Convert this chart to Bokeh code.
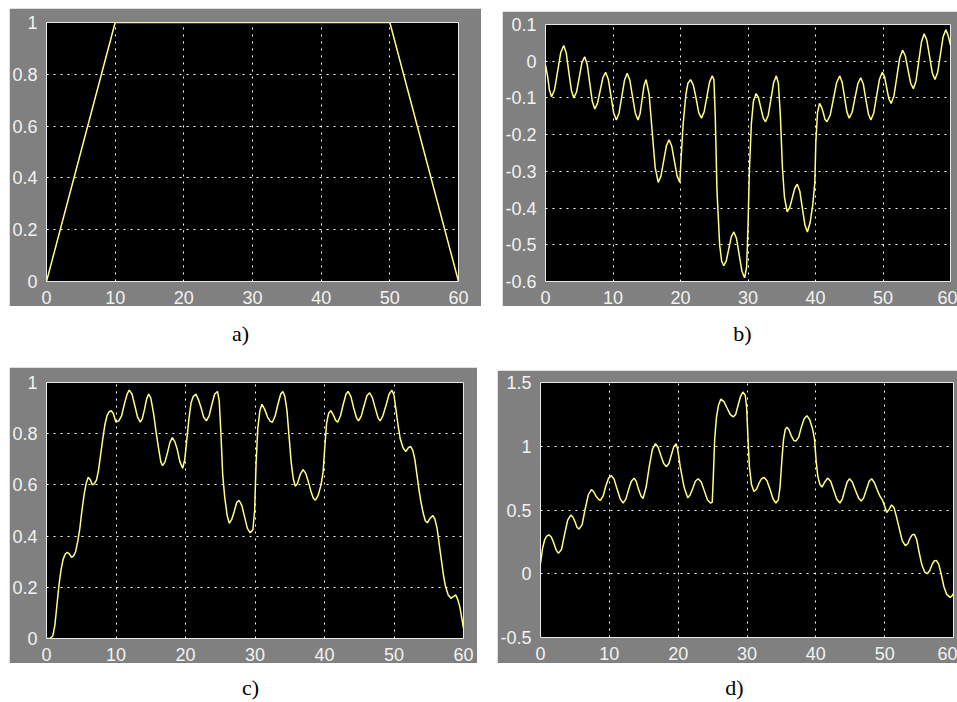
from bokeh.plotting import figure
from bokeh.layouts import column, row
from bokeh.models import Range1d, FixedTicker, Spacer, Label
from bokeh.embed import file_html
from bokeh.resources import INLINE

# ---------------- data ----------------
x_ticks = [0, 10, 20, 30, 40, 50, 60]
x_tick_labels = ["0", "10", "20", "30", "40", "50", "60"]

# a) reference trapezoid
a_x = [0, 10, 50, 60]
a_y = [0, 1, 1, 0]
a_yticks = [0, 0.2, 0.4, 0.6, 0.8, 1.0]
a_ylabels = ["0", "0.2", "0.4", "0.6", "0.8", "1"]

# b) error signal (read from the picture)
b_x = [0, 0.3, 0.6, 0.9, 1.35, 1.8, 2.25, 2.7, 3.08, 3.45, 3.83, 4.2, 4.6, 5.0, 5.4,
       5.8, 6.18, 6.55, 6.93, 7.3, 7.7, 8.1, 8.5, 8.9, 9.3, 9.7, 10.1, 10.5, 10.9,
       11.3, 11.7, 12.1, 12.5, 12.9, 13.3, 13.7, 14.0, 14.3, 14.6, 14.9, 15.35, 15.8,
       16.25, 16.7, 17.1, 17.5, 17.9, 18.3, 18.7, 19.1, 19.5, 19.9, 20.1, 20.4, 20.8,
       21.1, 21.5, 21.9, 22.3, 22.7, 23.1, 23.5, 23.9, 24.3, 24.7, 24.95, 25.15, 25.4,
       25.8, 26.1, 26.4, 26.78, 27.15, 27.53, 27.9, 28.3, 28.7, 29.1, 29.5, 29.8, 30.0,
       30.2, 30.5, 30.8, 31.2, 31.55, 31.9, 32.25, 32.6, 33.0, 33.4, 33.8, 34.2, 34.5,
       34.8, 35.1, 35.4, 35.8, 36.18, 36.55, 36.93, 37.3, 37.68, 38.05, 38.43, 38.8,
       39.2, 39.6, 39.9, 40.05, 40.3, 40.6, 40.9, 41.15, 41.4, 41.7, 42.18, 42.65,
       43.13, 43.6, 43.95, 44.3, 44.65, 45.0, 45.43, 45.85, 46.28, 46.7, 47.08, 47.45,
       47.83, 48.2, 48.63, 49.05, 49.48, 49.9, 50.23, 50.55, 50.88, 51.2, 51.63, 52.05,
       52.48, 52.9, 53.3, 53.7, 54.1, 54.5, 54.9, 55.3, 55.7, 56.1, 56.5, 56.9, 57.3,
       57.7, 58.1, 58.5, 58.9, 59.3, 59.65, 60]
b_y = [-0.01, -0.04, -0.08, -0.097, -0.077, -0.027, 0.023, 0.043, 0.022, -0.029,
       -0.079, -0.10, -0.084, -0.044, -0.004, 0.012, -0.009, -0.059, -0.109, -0.13,
       -0.115, -0.08, -0.045, -0.03, -0.049, -0.095, -0.141, -0.16, -0.141, -0.097,
       -0.052, -0.033, -0.052, -0.097, -0.141, -0.16, -0.144, -0.105, -0.066, -0.05,
       -0.09, -0.19, -0.29, -0.33, -0.313, -0.272, -0.231, -0.214, -0.231, -0.272,
       -0.313, -0.33, -0.26, -0.17, -0.09, -0.06, -0.05, -0.065, -0.10, -0.14, -0.155,
       -0.138, -0.098, -0.057, -0.04, -0.05, -0.15, -0.35, -0.50, -0.545, -0.557,
       -0.544, -0.511, -0.478, -0.465, -0.483, -0.528, -0.572, -0.59, -0.56, -0.45,
       -0.30, -0.17, -0.11, -0.088, -0.099, -0.127, -0.154, -0.165, -0.147, -0.103,
       -0.058, -0.04, -0.06, -0.15, -0.29, -0.37, -0.41, -0.399, -0.373, -0.346,
       -0.335, -0.354, -0.40, -0.446, -0.465, -0.44, -0.39, -0.33, -0.22, -0.14,
       -0.115, -0.125, -0.14, -0.158, -0.165, -0.147, -0.103, -0.058, -0.04, -0.057,
       -0.098, -0.138, -0.155, -0.139, -0.10, -0.061, -0.045, -0.062, -0.103, -0.143,
       -0.16, -0.141, -0.095, -0.049, -0.03, -0.042, -0.073, -0.103, -0.115, -0.094,
       -0.043, 0.009, 0.03, 0.015, -0.023, -0.06, -0.075, -0.053, 0.0, 0.053, 0.075,
       0.057, 0.013, -0.032, -0.05, -0.03, 0.018, 0.066, 0.086, 0.07, 0.043]
b_yticks = [-0.6, -0.5, -0.4, -0.3, -0.2, -0.1, 0.0, 0.1]
b_ylabels = ["-0.6", "-0.5", "-0.4", "-0.3", "-0.2", "-0.1", "0", "0.1"]

# c) output signal (read from the picture)
c_x = [0, 0.5, 0.9, 1.2, 1.5, 1.8, 2.1, 2.4, 2.7, 3.0, 3.3, 3.6, 3.9, 4.2, 4.5, 4.8,
       5.1, 5.4, 5.7, 6.0, 6.3, 6.6, 6.9, 7.2, 7.5, 7.8, 8.1, 8.4, 8.7, 9.0, 9.3, 9.6,
       10.0, 10.4, 10.8, 11.2, 11.6, 11.9, 12.3, 12.7, 13.1, 13.5, 13.8, 14.1, 14.4,
       14.7, 15.0, 15.4, 15.8, 16.2, 16.45, 16.7, 17.05, 17.4, 17.75, 18.1, 18.45,
       18.8, 19.2, 19.6, 19.9, 20.2, 20.5, 20.8, 21.1, 21.5, 21.9, 22.2, 22.6, 23.0,
       23.4, 23.8, 24.2, 24.6, 24.85, 25.1, 25.35, 25.65, 26.0, 26.3, 26.65, 27.0,
       27.35, 27.7, 28.1, 28.5, 28.9, 29.3, 29.7, 29.95, 30.15, 30.4, 30.7, 31.0,
       31.4, 31.8, 32.2, 32.5, 32.9, 33.3, 33.7, 34.0, 34.3, 34.6, 34.9, 35.2, 35.5,
       35.8, 36.1, 36.5, 36.9, 37.3, 37.7, 38.1, 38.4, 38.7, 39.1, 39.5, 39.8, 40.05,
       40.3, 40.6, 40.9, 41.3, 41.6, 41.9, 42.3, 42.7, 43.1, 43.4, 43.8, 44.2, 44.6,
       44.9, 45.3, 45.7, 46.1, 46.5, 46.9, 47.3, 47.7, 48.0, 48.4, 48.9, 49.3, 49.7,
       50.0, 50.3, 50.6, 50.9, 51.3, 51.7, 52.05, 52.4, 52.7, 53.0, 53.3, 53.6, 53.9,
       54.2, 54.5, 54.8, 55.2, 55.6, 55.9, 56.2, 56.5, 56.8, 57.1, 57.4, 57.8, 58.2,
       58.6, 58.9, 59.2, 59.5, 59.75, 60]
c_y = [0.0, 0.0, 0.01, 0.05, 0.13, 0.21, 0.27, 0.31, 0.33, 0.337, 0.33, 0.317, 0.323,
       0.34, 0.38, 0.43, 0.50, 0.56, 0.605, 0.63, 0.62, 0.60, 0.605, 0.62, 0.66, 0.72,
       0.78, 0.835, 0.87, 0.885, 0.89, 0.88, 0.845, 0.85, 0.87, 0.915, 0.955, 0.97,
       0.955, 0.91, 0.865, 0.845, 0.86, 0.895, 0.935, 0.955, 0.94, 0.88, 0.80, 0.73,
       0.69, 0.675, 0.69, 0.725, 0.765, 0.785, 0.77, 0.74, 0.69, 0.665, 0.70, 0.78,
       0.86, 0.92, 0.945, 0.955, 0.93, 0.905, 0.865, 0.85, 0.87, 0.915, 0.955, 0.965,
       0.93, 0.80, 0.64, 0.55, 0.48, 0.45, 0.465, 0.495, 0.53, 0.54, 0.52, 0.475, 0.43,
       0.413, 0.425, 0.50, 0.68, 0.82, 0.89, 0.915, 0.895, 0.865, 0.848, 0.845, 0.87,
       0.915, 0.955, 0.965, 0.945, 0.89, 0.79, 0.69, 0.625, 0.595, 0.605, 0.64, 0.66,
       0.645, 0.61, 0.57, 0.548, 0.54, 0.56, 0.60, 0.65, 0.75, 0.84, 0.88, 0.89, 0.872,
       0.852, 0.845, 0.87, 0.915, 0.955, 0.965, 0.945, 0.90, 0.862, 0.85, 0.87, 0.91,
       0.948, 0.96, 0.94, 0.90, 0.862, 0.85, 0.87, 0.915, 0.955, 0.97, 0.95, 0.89,
       0.83, 0.78, 0.745, 0.73, 0.745, 0.75, 0.735, 0.70, 0.64, 0.58, 0.53, 0.49,
       0.46, 0.452, 0.47, 0.48, 0.465, 0.43, 0.37, 0.31, 0.25, 0.205, 0.17, 0.157,
       0.165, 0.17, 0.15, 0.12, 0.08, 0.04]
c_yticks = [0, 0.2, 0.4, 0.6, 0.8, 1.0]
c_ylabels = ["0", "0.2", "0.4", "0.6", "0.8", "1"]

# d) control signal (read from the picture)
d_x = [0, 0.3, 0.6, 0.9, 1.2, 1.55, 1.9, 2.25, 2.6, 3.05, 3.5, 3.95, 4.4, 4.7, 5.0,
       5.3, 5.6, 6.05, 6.5, 6.95, 7.4, 7.7, 8.05, 8.4, 8.7, 9.1, 9.5, 9.9, 10.3, 10.7,
       11.15, 11.6, 12.0, 12.4, 12.8, 13.2, 13.6, 13.9, 14.25, 14.6, 14.9, 15.35, 15.8,
       16.25, 16.7, 17.1, 17.5, 17.9, 18.3, 18.65, 19.0, 19.35, 19.7, 19.95, 20.3,
       20.85, 21.4, 21.75, 22.15, 22.5, 22.9, 23.35, 23.8, 24.25, 24.7, 24.95, 25.1,
       25.3, 25.55, 25.85, 26.2, 26.65, 27.1, 27.55, 28.0, 28.35, 28.7, 29.05, 29.4,
       29.75, 29.95, 30.15, 30.35, 30.65, 31.0, 31.4, 31.75, 32.1, 32.5, 32.9, 33.35,
       33.8, 34.2, 34.55, 34.8, 35.05, 35.3, 35.55, 35.8, 36.1, 36.45, 36.8, 37.1,
       37.5, 37.9, 38.3, 38.7, 39.1, 39.5, 39.8, 40.05, 40.3, 40.6, 40.9, 41.3, 41.7,
       42.15, 42.6, 43.05, 43.5, 43.85, 44.2, 44.55, 44.9, 45.3, 45.75, 46.2, 46.6,
       46.95, 47.35, 47.75, 48.1, 48.5, 48.9, 49.3, 49.7, 50.0, 50.3, 50.65, 51.0,
       51.35, 51.7, 52.1, 52.55, 53.0, 53.35, 53.65, 54.0, 54.3, 54.65, 55.0, 55.4,
       55.8, 56.2, 56.55, 56.9, 57.2, 57.5, 57.85, 58.2, 58.6, 59.0, 59.5, 59.75, 60]
d_y = [0.08, 0.20, 0.265, 0.295, 0.305, 0.29, 0.245, 0.19, 0.16, 0.19, 0.31, 0.42,
       0.46, 0.445, 0.41, 0.365, 0.35, 0.385, 0.51, 0.62, 0.66, 0.645, 0.61, 0.585,
       0.575, 0.61, 0.69, 0.75, 0.77, 0.74, 0.66, 0.585, 0.555, 0.585, 0.66, 0.725,
       0.75, 0.725, 0.66, 0.61, 0.59, 0.68, 0.84, 0.975, 1.02, 0.99, 0.925, 0.865,
       0.84, 0.865, 0.93, 0.995, 1.02, 0.97, 0.84, 0.68, 0.595, 0.62, 0.675, 0.725,
       0.745, 0.72, 0.65, 0.58, 0.555, 0.56, 0.75, 1.05, 1.22, 1.32, 1.37, 1.35, 1.30,
       1.25, 1.23, 1.25, 1.32, 1.39, 1.425, 1.40, 1.30, 1.05, 0.84, 0.70, 0.645,
       0.665, 0.71, 0.745, 0.755, 0.73, 0.66, 0.585, 0.555, 0.58, 0.68, 0.88, 1.05,
       1.13, 1.15, 1.13, 1.08, 1.045, 1.04, 1.07, 1.15, 1.215, 1.24, 1.21, 1.14,
       1.06, 0.88, 0.76, 0.70, 0.68, 0.72, 0.75, 0.725, 0.655, 0.585, 0.555, 0.585,
       0.655, 0.72, 0.745, 0.72, 0.655, 0.595, 0.57, 0.595, 0.66, 0.725, 0.745, 0.715,
       0.66, 0.61, 0.575, 0.53, 0.48, 0.505, 0.54, 0.52, 0.45, 0.36, 0.26, 0.22,
       0.235, 0.275, 0.305, 0.31, 0.27, 0.17, 0.07, 0.015, 0.0, 0.025, 0.075, 0.10,
       0.105, 0.075, 0.0, -0.10, -0.16, -0.185, -0.175, -0.155]
d_yticks = [-0.5, 0.0, 0.5, 1.0, 1.5]
d_ylabels = ["-0.5", "0", "0.5", "1", "1.5"]

captions_top = ["a)", "b)"]
captions_bottom = ["c)", "d)"]

# ---------------- style ----------------
GRAY = "#808080"
LINE = "#ffff80"
TICK_TXT = "#f2f2f2"
TICK_FONT = "'Liberation Sans Narrow', 'Liberation Sans', sans-serif"
CAP_FONT = "Liberation Serif"


def panel(w, h, left, right, top, bottom, xs, ys, yr, yticks, ylabels):
    p = figure(width=w, height=h, x_range=Range1d(0, 60), y_range=Range1d(*yr),
               output_backend="svg", toolbar_location=None,
               background_fill_color="black", border_fill_color=GRAY,
               min_border_left=left, min_border_right=right,
               min_border_top=top, min_border_bottom=bottom)
    p.outline_line_color = "#e8e8e8"
    p.outline_line_width = 1
    p.line(xs, ys, line_color=LINE, line_width=1.5)
    p.xaxis.ticker = FixedTicker(ticks=x_ticks)
    p.xaxis.major_label_overrides = {float(t): l for t, l in zip(x_ticks, x_tick_labels)}
    p.yaxis.ticker = FixedTicker(ticks=yticks)
    p.yaxis.major_label_overrides = {float(t): l for t, l in zip(yticks, ylabels)}
    for ax in (p.xaxis[0], p.yaxis[0]):
        ax.major_tick_line_color = None
        ax.minor_tick_line_color = None
        ax.axis_line_color = None
        ax.major_label_text_color = TICK_TXT
        ax.major_label_text_font = TICK_FONT
        ax.major_label_text_font_size = "18px"
        ax.major_label_standoff = 3
    for g in (p.xgrid[0], p.ygrid[0]):
        g.grid_line_color = "white"
        g.grid_line_dash = "2 5"
        g.grid_line_width = 1
    return p


def caption(w, h, items):
    c = figure(width=w, height=h, x_range=Range1d(0, w), y_range=Range1d(0, h),
               output_backend="svg", toolbar_location=None,
               x_axis_type=None, y_axis_type=None, min_border=0,
               background_fill_color="white", border_fill_color="white")
    c.outline_line_color = None
    c.grid.visible = False
    for x, y, t in items:
        c.add_layout(Label(x=x, y=y, text=t, text_align="center", text_baseline="middle",
                           text_font=CAP_FONT, text_font_size="22px", text_color="black"))
    return c


fa = panel(472, 298, 37, 23, 14, 24, a_x, a_y, (0, 1), a_yticks, a_ylabels)
fb = panel(455, 295, 37, 7, 13, 23, b_x, b_y, (-0.6, 0.1), b_yticks, b_ylabels)
fc = panel(468, 296, 37, 14, 15, 25, c_x, c_y, (0, 1), c_yticks, c_ylabels)
fd = panel(460, 293, 37, 4, 12, 26, d_x, d_y, (-0.5, 1.5), d_yticks, d_ylabels)

cap1 = caption(957, 61, [(240, 34, captions_top[0]), (742, 34, captions_top[1])])
cap2 = caption(957, 38, [(250, 14, captions_bottom[0]), (734, 14, captions_bottom[1])])

row1 = row(Spacer(width=9, height=298), fa, Spacer(width=21, height=298),
           column(Spacer(width=455, height=3), fb))
row2 = row(Spacer(width=9, height=296), fc, Spacer(width=20, height=296),
           column(Spacer(width=460, height=3), fd))

layout = column(Spacer(width=957, height=8), row1, cap1, row2, cap2)

open("out.html", "w").write(file_html(layout, INLINE))
